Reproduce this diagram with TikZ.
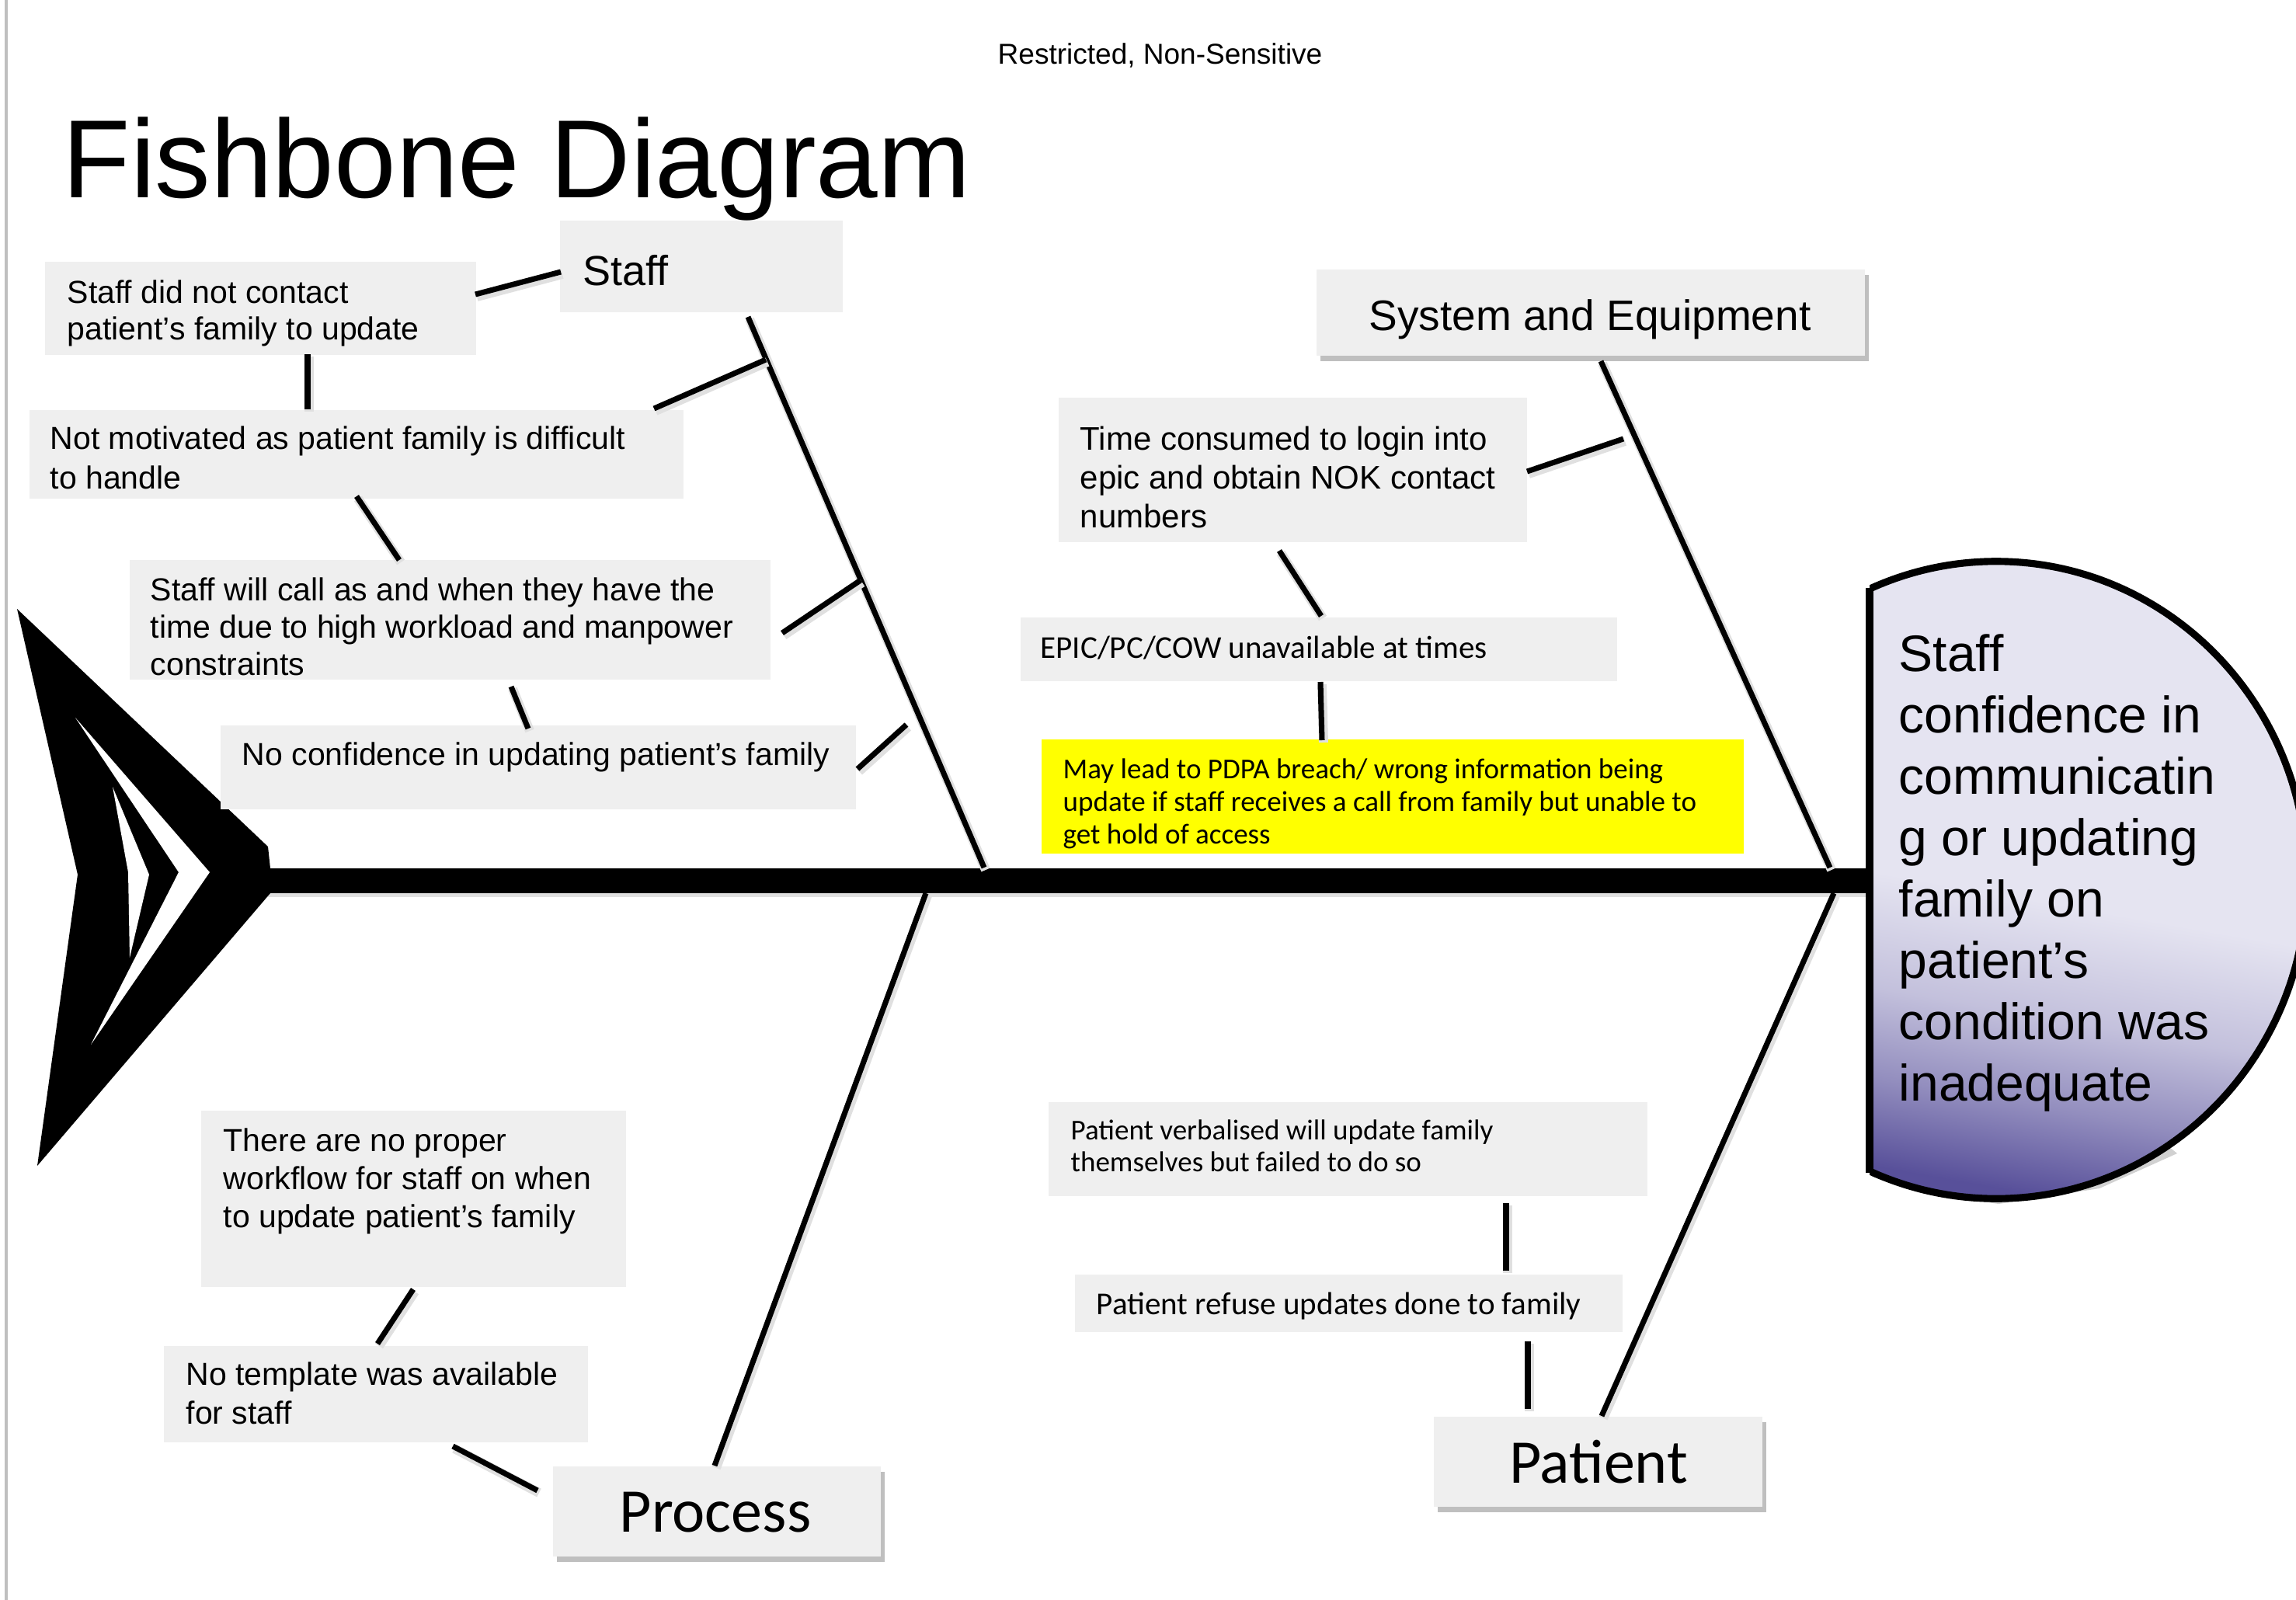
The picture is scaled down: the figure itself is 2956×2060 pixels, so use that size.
\documentclass[tikz,border=0pt]{standalone}
\usepackage{fontspec}
\setmainfont{Liberation Sans}
\newfontfamily\calib{Carlito}
\usetikzlibrary{shadows}
\definecolor{boxgray}{RGB}{239,239,239}
\definecolor{hlight}{RGB}{229,228,241}
\definecolor{hdark}{RGB}{88,80,154}
\definecolor{hiyellow}{RGB}{255,255,0}
\pgfdeclareverticalshading{headshade}{100bp}{color(0bp)=(hdark); color(26bp)=(hdark); color(33bp)=(hdark!58!hlight); color(40bp)=(hdark!24!hlight); color(49bp)=(hlight); color(100bp)=(hlight)}
\newcommand\fs[2]{\fontsize{\fpeval{#1*0.28453}pt}{\fpeval{#2*0.28453}pt}\selectfont}
\newcommand\ml[1]{\begin{tabular}[t]{@{}l@{}}#1\end{tabular}}
\newcommand\fbbox[6][]{\node[fbox,#1,anchor=north west,minimum width={(#4-#2)*0.01cm},minimum height={(#5-#3)*0.01cm}] (#6) at (#2,#3) {};}
\newcommand\link[2]{\draw[connshadow] (#1) -- (#2); \draw[conn] (#1) -- (#2);}
\begin{document}
\begin{tikzpicture}[x=0.01cm,y=-0.01cm,
  fbox/.style={rectangle,fill=boxgray,draw=none,inner sep=0pt},
  catshadow/.style={drop shadow={shadow xshift=0.05cm,shadow yshift=-0.07cm,opacity=0.45,fill=black!55}},
  txt/.style={inner sep=0pt,anchor=base west,text=black},
  conn/.style={line width=2pt,black},
  connshadow/.style={line width=3.4pt,black!12,transform canvas={xshift=0.02cm,yshift=-0.03cm}},
  spine/.style={line width=9.1pt,black}]
\useasboundingbox (0,0) rectangle (2956,2060);
\fill[white] (0,0) rectangle (2956,2060);
\draw[line width=0.9pt,black!25] (8,0) -- (8,2060);

% header
\node[txt,font=\fs{37}{42}] (restr) at (1284,82) {Restricted, Non-Sensitive};
\node[txt,font=\fs{143}{160}] (title) at (80,254) {Fishbone Diagram};

% spine
\coordinate (spL) at (340,1134);
\coordinate (spR) at (2407,1134);
\draw[connshadow,line width=10pt] (spL) -- (spR);
\draw[spine] (spL) -- (spR);

% tail
\fill[black] (22,784) -- (345,1090) -- (348,1118) -- (348,1150) -- (48,1501) -- (100,1126) -- cycle;
\fill[white] (97,924) -- (270,1123) -- (117,1345) -- (230,1123) -- cycle;
\fill[white] (145,1013) -- (192,1126) -- (167,1233) -- (165,1123) -- cycle;

% head
\fill[black!18,transform canvas={xshift=0.03cm,yshift=-0.05cm}] (2407,757) -- (2407,1510) -- (2470,1530) -- (2570,1545) -- (2700,1525) -- (2800,1480) -- (2700,1400) -- cycle;
\begin{scope}
\clip (2407,600) rectangle (2956,1700);
\shade[shading=headshade,shading angle=-10] (2570,1133) ellipse [x radius=4cm,y radius=4.1cm];
\draw[line width=2.6pt] (2570,1133) ellipse [x radius=4cm,y radius=4.1cm];
\end{scope}
\coordinate (hdT) at (2407,757);
\coordinate (hdB) at (2407,1510);
\draw[line width=3pt] (hdT) -- (hdB);
\node[txt,font=\fs{66}{79}] (effect) at (2444,864) {\ml{Staff\\confidence in\\communicatin\\g or updating\\family on\\patient’s\\condition was\\inadequate}};

% ---- Staff
\fbbox{720}{283}{1084}{401}{staff}
\node[txt,font=\fs{54}{60}] (stafft) at (750,367) {Staff};
\fbbox{57}{336}{612}{456}{sA}
\node[txt,font=\fs{41}{47}] (sAt) at (86,390) {\ml{Staff did not contact\\patient’s family to update}};
\fbbox{37}{527}{879}{641}{sB}
\node[txt,font=\fs{41}{51}] (sBt) at (64,578) {\ml{Not motivated as patient family is difficult\\to handle}};
\fbbox{166}{720}{991}{874}{sC}
\node[txt,font=\fs{41}{48}] (sCt) at (193,773) {\ml{Staff will call as and when they have the\\time due to high workload and manpower\\constraints}};
\fbbox{283}{933}{1101}{1041}{sD}
\node[txt,font=\fs{41}{48}] (sDt) at (311,985) {No confidence in updating patient’s family};

\coordinate (sbTop) at (963,408);
\coordinate (sbBot) at (1267,1117);
\link{sbTop}{sbBot}
\coordinate (sA1) at (612,379); \coordinate (st1) at (722,350);
\link{sA1}{st1}
\coordinate (sA2) at (396,456); \coordinate (sB1) at (396,527);
\link{sA2}{sB1}
\coordinate (sB2) at (459,639); \coordinate (sC1) at (514,721);
\link{sB2}{sC1}
\coordinate (sC2) at (658,884); \coordinate (sD1) at (680,938);
\link{sC2}{sD1}
\coordinate (brB0) at (842,526); \coordinate (brB1) at (986,463);
\link{brB0}{brB1}
\coordinate (brC0) at (1007,815); \coordinate (brC1) at (1108,747);
\link{brC0}{brC1}
\coordinate (brD0) at (1104,990); \coordinate (brD1) at (1167,933);
\link{brD0}{brD1}

% ---- System and Equipment
\fbbox[catshadow]{1694}{346}{2400}{457}{sys}
\node[txt,anchor=base,font=\fs{55}{60}] (syst) at (2047,425) {System and Equipment};
\fbbox{1362}{511}{1965}{697}{tA}
\node[txt,font=\fs{42}{50}] (tAt) at (1390,579) {\ml{Time consumed to login into\\epic and obtain NOK contact\\numbers}};
\fbbox{1313}{794}{2081}{876}{tB}
\node[txt,font=\calib\fs{41}{48}] (tBt) at (1339,847) {EPIC/PC/COW unavailable at times};
\fbbox[fill=hiyellow]{1340}{951}{2244}{1098}{tC}
\node[txt,font=\calib\fs{37}{42}] (tCt) at (1368,1002) {\ml{May lead to PDPA breach/ wrong information being\\update if staff receives a call from family but unable to\\get hold of access}};

\coordinate (ybTop) at (2061,465);
\coordinate (ybBot) at (2356,1117);
\link{ybTop}{ybBot}
\coordinate (tA1) at (1966,607); \coordinate (tA2) at (2090,565);
\link{tA1}{tA2}
\coordinate (tA3) at (1647,709); \coordinate (tB1) at (1701,793);
\link{tA3}{tB1}
\coordinate (tB2) at (1700,878); \coordinate (tC1) at (1702,953);
\link{tB2}{tC1}

% ---- Process
\fbbox[catshadow]{711}{1887}{1133}{2003}{proc}
\node[txt,anchor=base,font=\calib\fs{80}{90}] (proct) at (921,1972) {Process};
\fbbox{258}{1429}{805}{1656}{pA}
\node[txt,font=\fs{41}{49}] (pAt) at (287,1482) {\ml{There are no proper\\workflow for staff on when\\to update patient’s family}};
\fbbox{210}{1732}{756}{1856}{pB}
\node[txt,font=\fs{41}{50}] (pBt) at (239,1783) {\ml{No template was available\\for staff}};

\coordinate (pbTop) at (1192,1150);
\coordinate (pbBot) at (920,1887);
\link{pbTop}{pbBot}
\coordinate (pA1) at (532,1660); \coordinate (pB1) at (486,1730);
\link{pA1}{pB1}
\coordinate (pB2) at (583,1862); \coordinate (pr1) at (692,1919);
\link{pB2}{pr1}

% ---- Patient
\fbbox[catshadow]{1845}{1823}{2268}{1939}{pat}
\node[txt,anchor=base,font=\calib\fs{80}{90}] (patt) at (2058,1909) {Patient};
\fbbox{1349}{1418}{2120}{1539}{qA}
\node[txt,font=\calib\fs{37}{41}] (qAt) at (1378,1467) {\ml{Patient verbalised will update family\\themselves but failed to do so}};
\fbbox{1383}{1640}{2088}{1714}{qB}
\node[txt,font=\calib\fs{41}{48}] (qBt) at (1411,1692) {Patient refuse updates done to family};

\coordinate (qbTop) at (2361,1150);
\coordinate (qbBot) at (2062,1823);
\link{qbTop}{qbBot}
\coordinate (qA1) at (1939,1549); \coordinate (qB1) at (1939,1636);
\link{qA1}{qB1}
\coordinate (qB2) at (1967,1727); \coordinate (pt1) at (1967,1814);
\link{qB2}{pt1}
\end{tikzpicture}
\end{document}
